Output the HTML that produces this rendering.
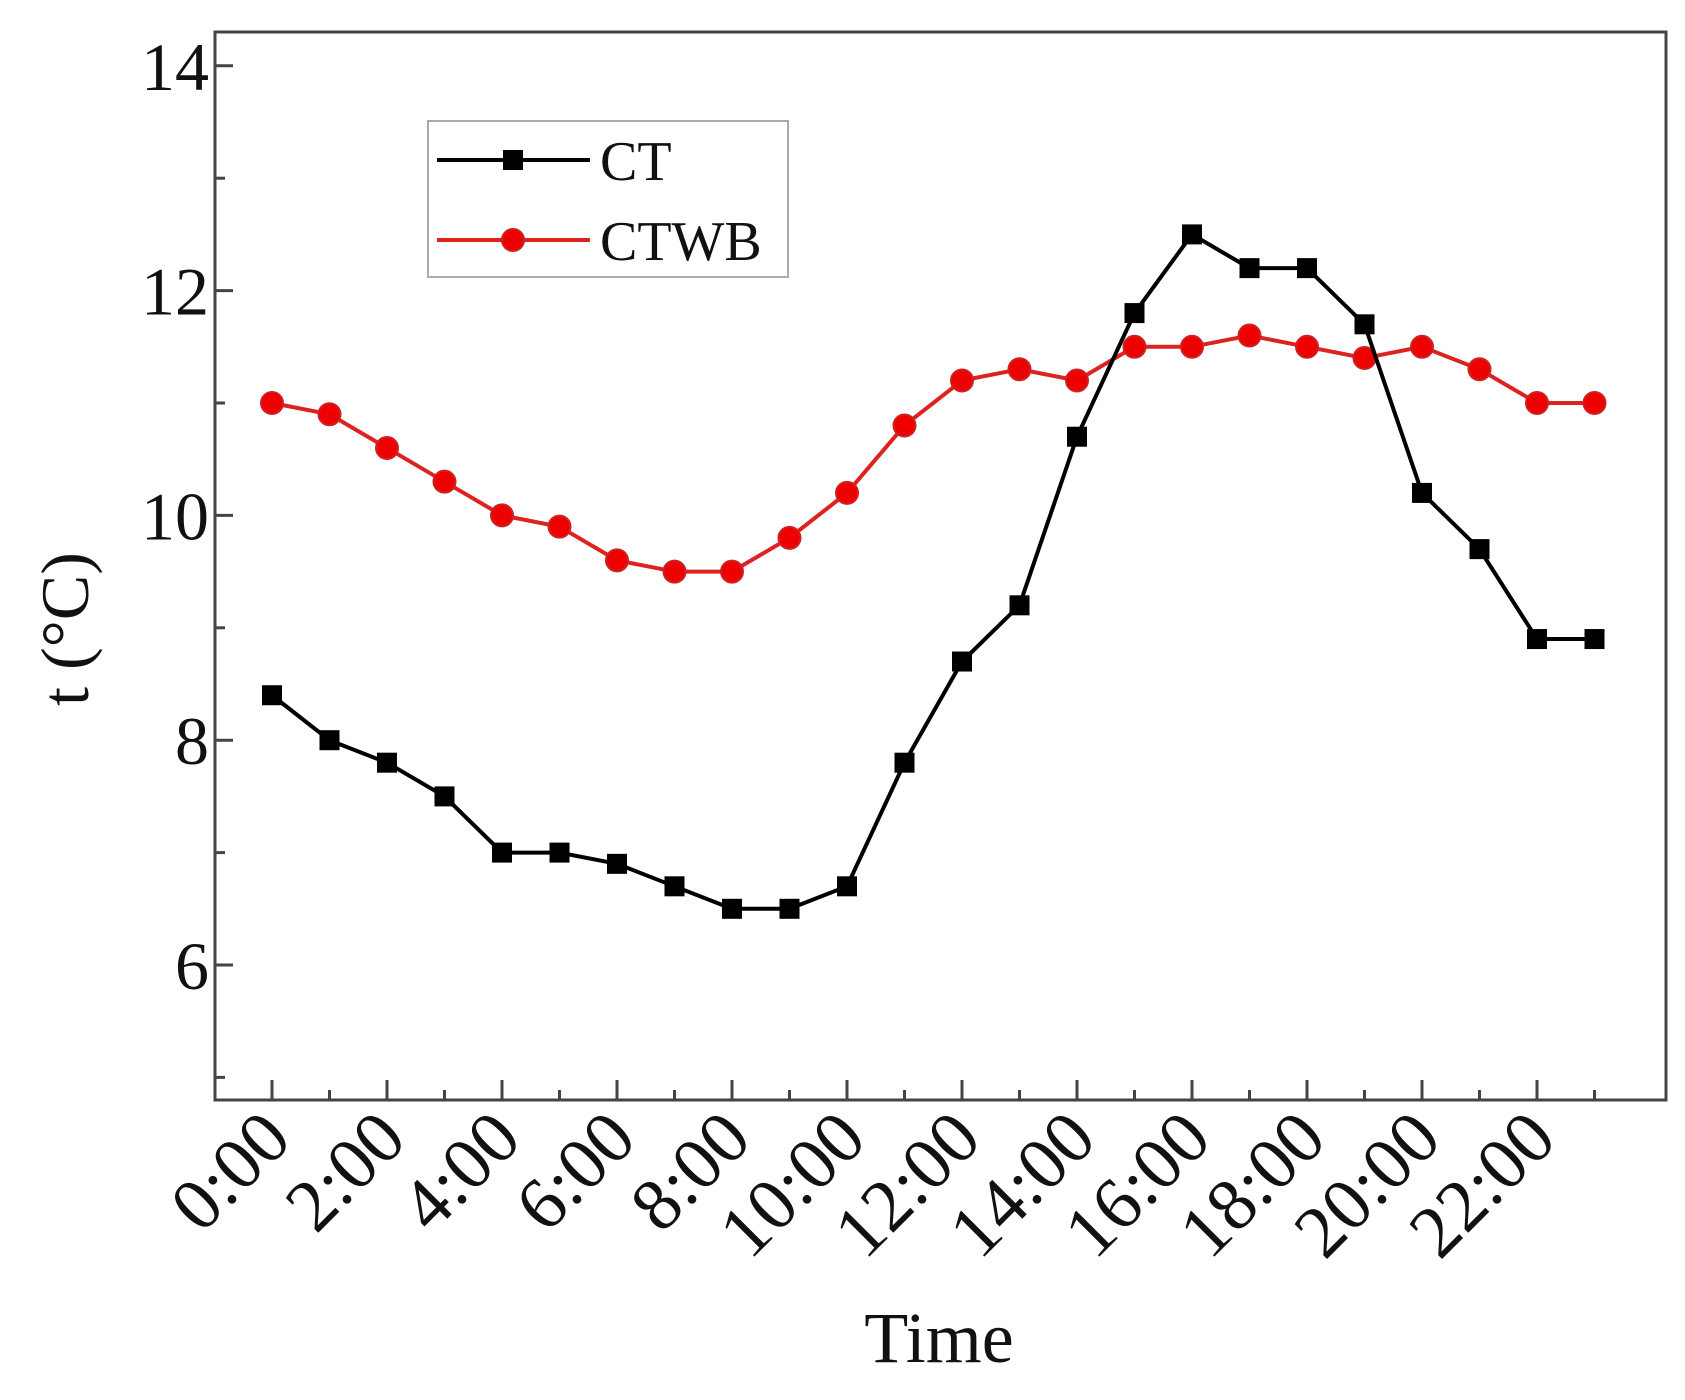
<!DOCTYPE html>
<html><head><meta charset="utf-8"><style>
html,body{margin:0;padding:0;background:#fff;}
svg{display:block;font-family:"Liberation Serif",serif;}
</style></head><body>
<svg id="chart" width="1685" height="1400" viewBox="0 0 1685 1400">
<g id="axes"></g>
<g id="series"></g>
<g id="legend">
 <rect x="428" y="121" width="360" height="156" fill="#fff" stroke="#aaa" stroke-width="2"/>
 <g>
  <line x1="437" y1="160" x2="590" y2="160" stroke="#000" stroke-width="4"/>
  <rect x="503" y="150" width="20" height="20" fill="#000"/>
  <text x="600" y="180" font-size="56" fill="#111">CT</text>
 </g>
 <g>
  <line x1="437" y1="240" x2="590" y2="240" stroke="#d22" stroke-width="4"/>
  <circle cx="513" cy="240" r="11" fill="#e00" stroke="#c22" stroke-width="2"/>
  <text x="600" y="260" font-size="56" fill="#111">CTWB</text>
 </g>
</g>
<text x="939" y="1362" font-size="72" text-anchor="middle" fill="#111">Time</text>
<text transform="translate(88,629) rotate(-90)" font-size="68" text-anchor="middle" fill="#111">t (°C)</text>
</svg>
<script>
const hours = [0,1,2,3,4,5,6,7,8,9,10,11,12,13,14,15,16,17,18,19,20,21,22,23];
const ctValues = [8.4,8.0,7.8,7.5,7.0,7.0,6.9,6.7,6.5,6.5,6.7,7.8,8.7,9.2,10.7,11.8,12.5,12.2,12.2,11.7,10.2,9.7,8.9,8.9];
const ctwbValues = [11.0,10.9,10.6,10.3,10.0,9.9,9.6,9.5,9.5,9.8,10.2,10.8,11.2,11.3,11.2,11.5,11.5,11.6,11.5,11.4,11.5,11.3,11.0,11.0];
const yTicks = [6,8,10,12,14];
const xTickLabels = ["0:00","2:00","4:00","6:00","8:00","10:00","12:00","14:00","16:00","18:00","20:00","22:00"];

const NS="http://www.w3.org/2000/svg";
const L=215,R=1666,T=32,B=1100;
function xs(h){return 272+h*57.5;}
function ys(v){return 965-(v-6)*112.4;}
function mk(tag,attrs,parent){const e=document.createElementNS(NS,tag);for(const k in attrs)e.setAttribute(k,attrs[k]);parent.appendChild(e);return e;}
const axes=document.getElementById('axes');
const frame=mk('rect',{x:L,y:T,width:R-L,height:B-T,fill:'none',stroke:'#444','stroke-width':3},axes);


for(let v=5;v<=14;v++){
  const major=v%2===0;
  const t=mk('line',{x1:L,x2:L+(major?18:10),y1:ys(v),y2:ys(v),stroke:'#444','stroke-width':3},axes);
  
  
}
yTicks.forEach(v=>{
  const t=mk('text',{x:L-6,y:ys(v)+24,'font-size':68,'text-anchor':'end',fill:'#111'},axes);
  t.textContent=String(v);
  
  
});
for(let h=0;h<=23;h++){
  const major=h%2===0;
  const t=mk('line',{x1:xs(h),x2:xs(h),y1:B,y2:B-(major?20:10),stroke:'#444','stroke-width':3},axes);
  
  
}
xTickLabels.forEach((s,i)=>{
  const x=xs(i*2)+22,y=B+42;
  const t=mk('text',{x:x,y:y,'font-size':74,'text-anchor':'end',fill:'#111',transform:`rotate(-45 ${x} ${y})`},axes);
  t.textContent=s;
  
  
});
const ser=document.getElementById('series');
function path(vals){return vals.map((v,i)=>(i?'L':'M')+xs(hours[i])+','+ys(v)).join(' ');}
const l2=mk('path',{d:path(ctwbValues),fill:'none',stroke:'#d22','stroke-width':4},ser);


ctwbValues.forEach((v,i)=>{
  const c=mk('circle',{cx:xs(hours[i]),cy:ys(v),r:11,fill:'#e00',stroke:'#c22','stroke-width':2},ser);
  
  
});
const l1=mk('path',{d:path(ctValues),fill:'none',stroke:'#000','stroke-width':4},ser);


ctValues.forEach((v,i)=>{
  const r=mk('rect',{x:xs(hours[i])-10,y:ys(v)-10,width:20,height:20,fill:'#000'},ser);
  
  
});
</script>
</body></html>
